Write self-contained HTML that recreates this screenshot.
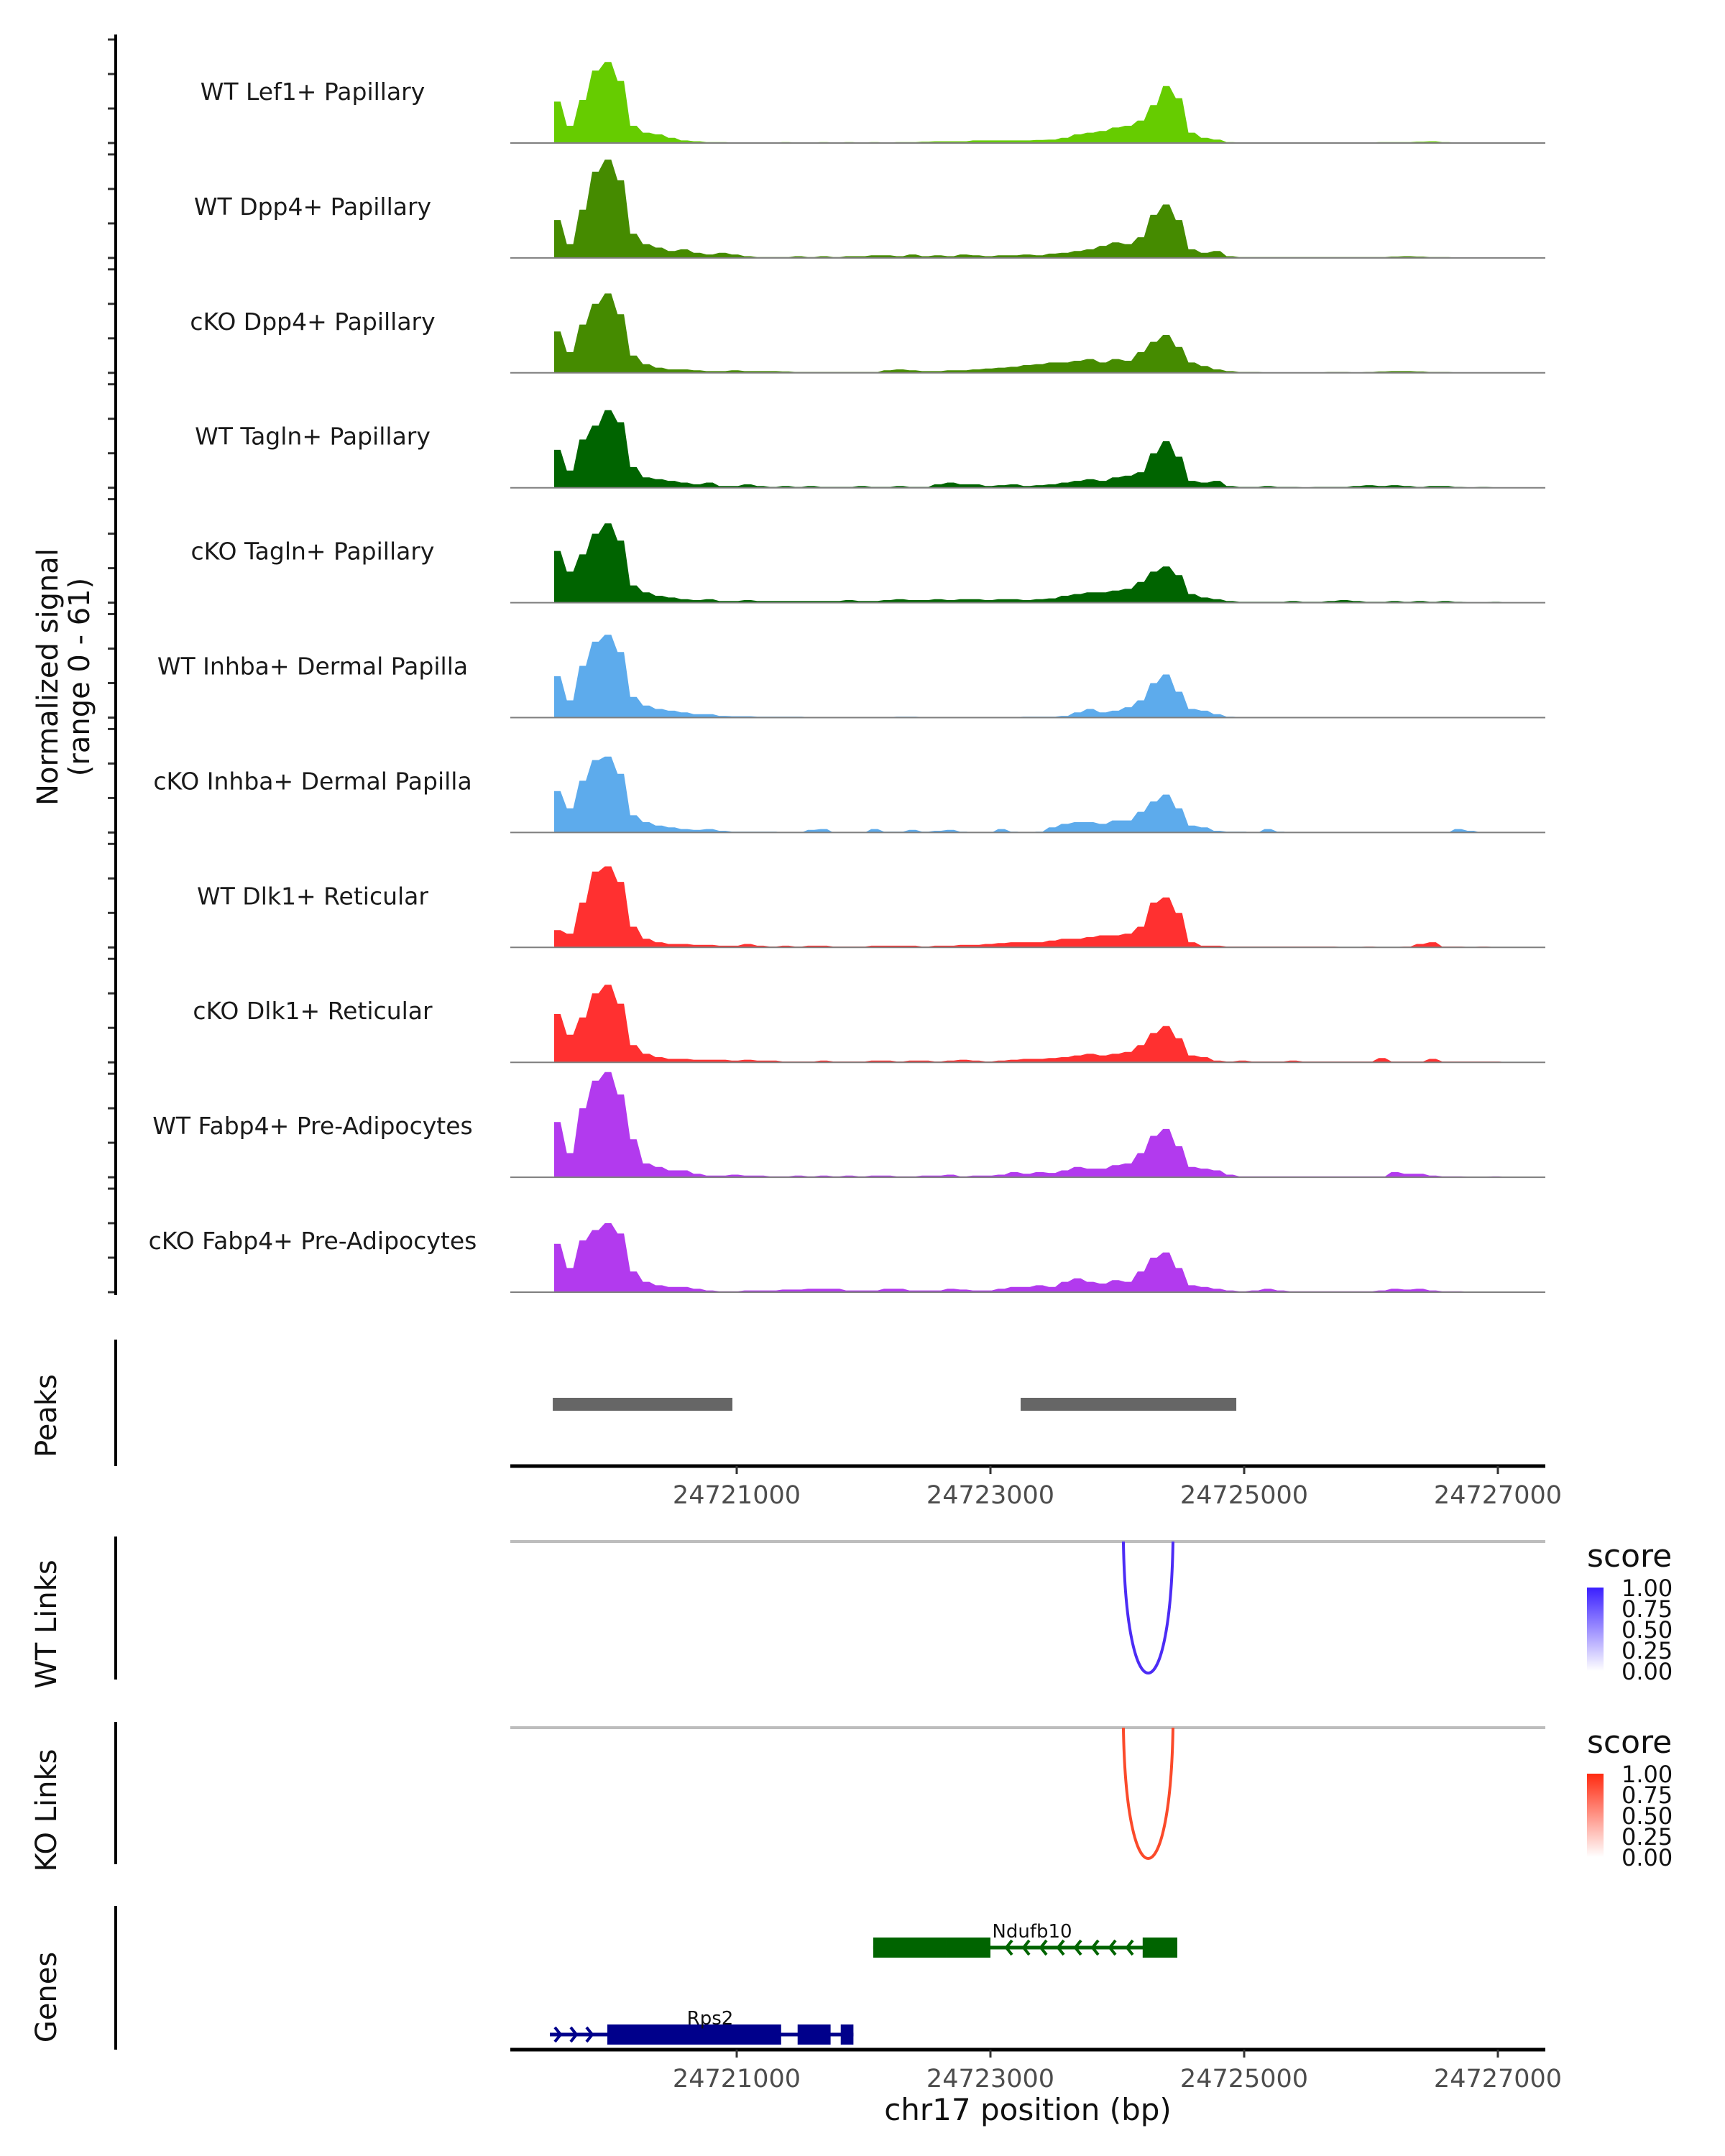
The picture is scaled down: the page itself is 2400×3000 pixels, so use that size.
<!DOCTYPE html>
<html><head><meta charset="utf-8">
<style>
html,body{margin:0;padding:0;background:#fff;}
svg{display:block;font-family:"DejaVu Sans","Liberation Sans",sans-serif;}
</style></head>
<body>
<svg id="chart" width="2400" height="3000" viewBox="0 0 2400 3000" xmlns="http://www.w3.org/2000/svg">
  <rect width="2400" height="3000" fill="#fff"/>
  <g id="tracks"></g>
  <line x1="161" y1="48" x2="161" y2="1802" stroke="#000" stroke-width="4"/>
  <text transform="translate(80,942) rotate(-90)" text-anchor="middle" font-size="40" fill="#111">Normalized signal</text>
  <text transform="translate(124,942) rotate(-90)" text-anchor="middle" font-size="40" fill="#111">(range 0 - 61)</text>

  <line x1="161" y1="1864" x2="161" y2="2040" stroke="#000" stroke-width="4"/>
  <text transform="translate(78,1970) rotate(-90)" text-anchor="middle" font-size="40" fill="#111">Peaks</text>
  <g id="peaks"></g>
  <g id="axis1"></g>

  <line x1="161" y1="2138" x2="161" y2="2337" stroke="#000" stroke-width="4"/>
  <text transform="translate(78,2260) rotate(-90)" text-anchor="middle" font-size="40" fill="#111">WT Links</text>
  <line x1="710" y1="2145" x2="2150" y2="2145" stroke="#bdbdbd" stroke-width="4"/>
  <g id="wtlinks"></g>

  <line x1="161" y1="2396" x2="161" y2="2594" stroke="#000" stroke-width="4"/>
  <text transform="translate(78,2519) rotate(-90)" text-anchor="middle" font-size="40" fill="#111">KO Links</text>
  <line x1="710" y1="2404" x2="2150" y2="2404" stroke="#bdbdbd" stroke-width="4"/>
  <g id="kolinks"></g>

  <defs>
    <linearGradient id="gblue" x1="0" y1="1" x2="0" y2="0"><stop offset="0" stop-color="#ffffff"/><stop offset="1" stop-color="#3a1fff"/></linearGradient>
    <linearGradient id="gred" x1="0" y1="1" x2="0" y2="0"><stop offset="0" stop-color="#ffffff"/><stop offset="1" stop-color="#ff2a10"/></linearGradient>
  </defs>
  <g>
    <text x="2208" y="2180" font-size="44" fill="#111">score</text>
    <rect x="2208" y="2209" width="23" height="116" fill="url(#gblue)"/>
    <g font-size="32" fill="#111">
      <text x="2256" y="2221">1.00</text><text x="2256" y="2250">0.75</text><text x="2256" y="2279">0.50</text><text x="2256" y="2308">0.25</text><text x="2256" y="2337">0.00</text>
    </g>
  </g>
  <g>
    <text x="2208" y="2439" font-size="44" fill="#111">score</text>
    <rect x="2208" y="2468" width="23" height="116" fill="url(#gred)"/>
    <g font-size="32" fill="#111">
      <text x="2256" y="2480">1.00</text><text x="2256" y="2509">0.75</text><text x="2256" y="2538">0.50</text><text x="2256" y="2567">0.25</text><text x="2256" y="2596">0.00</text>
    </g>
  </g>

  <line x1="161" y1="2652" x2="161" y2="2852" stroke="#000" stroke-width="4"/>
  <text transform="translate(78,2779) rotate(-90)" text-anchor="middle" font-size="40" fill="#111">Genes</text>
  <g id="genes"></g>
  <g id="axis2"></g>
  <text x="1430" y="2950" text-anchor="middle" font-size="42" fill="#111">chr17 position (bp)</text>
</svg>
<script>
// ---- data ----
const trackLabels = ["WT Lef1+ Papillary","WT Dpp4+ Papillary","cKO Dpp4+ Papillary","WT Tagln+ Papillary","cKO Tagln+ Papillary","WT Inhba+ Dermal Papilla","cKO Inhba+ Dermal Papilla","WT Dlk1+ Reticular","cKO Dlk1+ Reticular","WT Fabp4+ Pre-Adipocytes","cKO Fabp4+ Pre-Adipocytes"];
const trackColors = ["#66cc00","#458b00","#458b00","#006400","#006400","#5dabec","#5dabec","#ff3030","#ff3030","#b23aee","#b23aee"];
const binStart = 24719561;
const binSize = 100;
const sigWTLef1 = [24,10,25,42,47,36,10,6,5,3, 1.5,1,0.5,0.5,0.3,0.3,0.3,0.3,0.5,0.3, 0.3,0.5,0.3,0.5,0.3,0.5,0.3,0.5,0.5,0.8, 1,1,1,1.5,1.5,1.5,1.5,1.5,1.8,2, 3,5,6,7,9,10,13,22,33,26, 6,3,2,0.5,0.3,0.3,0.3,0.3,0.3,0.3, 0.3,0.3,0.3,0.3,0.3,0.5,0.5,0.5,0.8,1, 0.5,0.3,0.3,0.3,0.3];
const sigWTDpp4 = [22,8,28,50,57,45,14,8,6,4, 5,3,2,3,2,1,0.5,0.5,0.5,1, 0.5,1,0.5,1,1,1.5,1.5,1,2,1, 1.5,1,2,1.5,1,1.5,1.5,2,1.5,2.5, 3,4,5,7,9,8,12,25,31,22, 5,3,4,1,0.5,0.5,0.5,0.5,0.5,0.5, 0.5,0.5,0.5,0.5,0.5,0.5,0.8,1,0.8,0.5, 0.5,0.3,0.3,0.3,0.3];
const sigKODpp4 = [24,12,28,40,46,34,10,5,3,2, 2,1.5,1,1,1.5,1,1,1,0.8,0.5, 0.5,0.5,0.5,0.5,0.5,0.5,1.5,2,1.5,1, 1,1.5,1.5,2,2.5,3,3.5,4.5,5,6, 6,7,8,6,8,7,12,18,22,15, 6,4,2,1,0.5,0.5,0.3,0.3,0.3,0.3, 0.3,0.5,0.5,0.3,0.5,0.8,1,1,0.8,0.5, 0.5,0.3,0.3,0.3,0.3];
const sigWTTagln = [22,10,28,36,45,38,12,6,5,4, 3,2,3,1,1,2,1,0.5,1,0.5, 1,0.5,0.5,0.5,1,0.5,0.5,1,0.5,0.5, 2,3,2,2,1,1.5,2,1,1.5,2, 3,4,5,4,6,7,9,20,27,18, 4,3,4,1,0.5,0.5,1,0.5,0.5,0.3, 0.5,0.5,0.5,1,1.5,1,1.5,1,0.5,1, 1,0.5,0.3,0.5,0.3];
const sigKOTagln = [30,18,28,40,46,36,10,6,4,3, 2,1.5,2,1,1,1.5,1,1,1,1, 1,1,1,1.5,1,1,1.5,2,1.5,1.5, 2,1.5,2,2,1.5,2,2,1.5,2,2.5, 4,5,6,6,7,8,12,18,21,16, 5,3,2,1,0.5,0.5,0.5,0.5,1,0.5, 0.5,1,1.5,1,0.5,0.5,1,0.5,1,0.5, 1,0.5,0.3,0.3,0.5];
const sigWTInhba = [24,10,30,44,48,38,12,7,5,4, 3,2,2,1,0.8,0.8,0.5,0.5,0.5,0.5, 0.3,0.3,0.3,0.3,0.3,0.3,0.3,0.5,0.5,0.3, 0.3,0.3,0.3,0.3,0.3,0.3,0.3,0.5,0.5,0.5, 1,3,5,3,4,6,10,20,25,15, 5,4,2,0.5,0.3,0.3,0.3,0.3,0.3,0.3, 0.3,0.3,0.3,0.3,0.3,0.3,0.3,0.3,0.3,0.3, 0.3,0.3,0.3,0.3,0.3];
const sigKOInhba = [24,14,30,42,44,34,10,6,4,3, 2,1.5,2,1,0.5,0.5,0.5,0.5,0,0, 1.5,2,0,0,0,2,0.5,0.5,1.5,0.5, 1,1.5,0.5,0,0,2,0.5,0,0.5,3, 5,6,6,5,7,7,12,18,22,14, 4,3,1,0.5,0.5,0,2,0.5,0,0, 0,0,0,0,0,0,0,0,0,0, 0,2,1,0,0];
const sigWTDlk1 = [10,8,26,44,47,38,12,5,3,2, 2,1.5,1.5,1,1,2,1,0.5,1,0.5, 1,1,0.5,0.5,0.5,1,1,1,1,0.5, 1,1,1.5,1.5,2,2.5,3,3,3,4, 5,5,6,7,7,8,12,26,29,20, 3,1,1,0.5,0.5,0.5,0.5,0.5,0.5,0.5, 0.5,0.5,0.3,0.3,0.5,0.3,0.3,0.5,2,3, 0.5,0.5,0.3,0.5,0.3];
const sigKODlk1 = [28,16,26,40,45,34,10,5,3,2, 2,1.5,1.5,1.5,1,1.5,1,1,0.5,0.5, 0.5,1,0.5,0.5,0.5,1,1,0.5,1,1, 0.5,1,1.5,1,0.5,1,1.5,2,2,2.5, 3,4,5,4,5,6,10,17,21,14, 4,3,1,0.5,1,0.5,0.5,0.5,1,0.5, 0.5,0.5,0.5,0.5,0.5,2.5,0.5,0.5,0.5,2, 0.5,0.5,0.5,0.5,0.5];
const sigWTFabp4 = [32,14,40,56,61,48,22,8,6,4, 4,2,1,1,1.5,1,1,0.5,0.5,1, 0.5,1,0.5,1,0.5,1,1,0.5,0.5,1, 1,1.5,0.5,1,1,1.5,3,2,3,2.5, 4,6,5,5,7,8,14,24,28,18, 6,5,4,1.5,0.5,0.5,0.5,0.5,0.5,0.5, 0.5,0.5,0.5,0.5,0.5,0.5,3,2,2,1, 0.5,0.5,0.3,0.3,0.5];
const sigKOFabp4 = [28,14,30,36,40,34,12,6,4,3, 3,2,1,0.5,0.5,1,1,1,1.5,1.5, 2,2,2,1,1,1,2,2,1,1, 1,2,1.5,1,1,2,3,3,4,3, 6,8,6,5,7,6,12,20,23,14, 4,3,2,1,0.5,1,2,1,0.5,0.5, 0.5,0.5,0.5,0.5,0.5,1,2,1.5,2,1, 0.5,0.5,0.3,0.3,0.3];
const signals = [sigWTLef1,sigWTDpp4,sigKODpp4,sigWTTagln,sigKOTagln,sigWTInhba,sigKOInhba,sigWTDlk1,sigKODlk1,sigWTFabp4,sigKOFabp4];
const yTicks = [0,20,40,60];
const peakStarts = [24719550, 24723238];
const peakEnds = [24720966, 24724938];
const wtLinkStart = [24724048];
const wtLinkEnd = [24724439];
const wtLinkScore = [0.85];
const koLinkStart = [24724048];
const koLinkEnd = [24724439];
const koLinkScore = [0.85];
const xTicks = [24721000, 24723000, 24725000, 24727000];
const xTickLabels = ["24721000","24723000","24725000","24727000"];

// ---- scales ----
const NS = "http://www.w3.org/2000/svg";
const xScale = bp => 1025 + (bp - 24721000) * 0.1765;
const trackBase = i => 199 + i * 159.9;
const yScale = (i, v) => trackBase(i) - v * 2.4;
function mk(tag, attrs, parent){const e=document.createElementNS(NS,tag);for(const k in attrs)e.setAttribute(k,attrs[k]);parent.appendChild(e);return e;}

// ---- coverage tracks ----
const tracksG = document.getElementById('tracks');
signals.forEach((arr, i) => {
  const g = mk('g', {}, tracksG);
  
  
  yTicks.forEach(t => {
    const tk = mk('line', {x1:150, x2:161, y1:yScale(i,t), y2:yScale(i,t), stroke:'#333', 'stroke-width':3}, g);
    
    
  });
  const base = trackBase(i);
  let d = 'M' + xScale(binStart).toFixed(1) + ',' + base;
  arr.forEach((v, k) => {
    const x0 = xScale(binStart + k * binSize), x1 = xScale(binStart + (k + 1) * binSize);
    d += ' L' + x0.toFixed(1) + ',' + yScale(i, v).toFixed(1) + ' L' + ((x0+x1)/2).toFixed(1) + ',' + yScale(i, v).toFixed(1);
  });
  d += ' L' + xScale(binStart + arr.length * binSize).toFixed(1) + ',' + base + ' Z';
  const area = mk('path', {d:d, fill:trackColors[i], stroke:'none'}, g);
  
  
  const bl = mk('line', {x1:710, x2:2150, y1:base, y2:base, stroke:'#7f7f7f', 'stroke-width':2}, g);
  
  
  const lb = mk('text', {x:435, y:base - 60, 'text-anchor':'middle', 'font-size':33, fill:'#1a1a1a'}, g);
  lb.textContent = trackLabels[i];
  
  
});

// ---- peaks ----
const peaksG = document.getElementById('peaks');
peakStarts.forEach((s, k) => {
  const r = mk('rect', {x:xScale(s), y:1945, width:xScale(peakEnds[k]) - xScale(s), height:18, fill:'#666'}, peaksG);
  
  
});

// ---- axes ----
function drawAxis(id, y){
  const g = document.getElementById(id);
  const ln = mk('line', {x1:710, x2:2150, y1:y, y2:y, stroke:'#000', 'stroke-width':5}, g);
  
  
  xTicks.forEach((t, k) => {
    const tk = mk('line', {x1:xScale(t), x2:xScale(t), y1:y, y2:y + 11, stroke:'#333', 'stroke-width':3}, g);
    
    
    const tx = mk('text', {x:xScale(t), y:y + 52, 'text-anchor':'middle', 'font-size':35, fill:'#4d4d4d'}, g);
    tx.textContent = xTickLabels[k];
    
    
  });
}
drawAxis('axis1', 2040);
drawAxis('axis2', 2852);

// ---- links ----
function drawLinks(id, starts, ends, scores, top, depth, color){
  const g = document.getElementById(id);
  starts.forEach((s, k) => {
    const x1 = xScale(s), x2 = xScale(ends[k]);
    const c = top + depth * scores[k] / 0.85 * 4 / 3;
    const p = mk('path', {d:`M${x1},${top} C${x1+4},${c} ${x2-4},${c} ${x2},${top}`, fill:'none', stroke:color, 'stroke-width':4}, g);
    
    
  });
}
drawLinks('wtlinks', wtLinkStart, wtLinkEnd, wtLinkScore, 2145, 183, '#4c2cf5');
drawLinks('kolinks', koLinkStart, koLinkEnd, koLinkScore, 2404, 182, '#fb4a2a');

// ---- genes ----
const genesG = document.getElementById('genes');
function drawGene(name, y, start, end, exons, color, labelX){
  const g = mk('g', {}, genesG);
  
  
  const ln = mk('line', {x1:xScale(start), x2:xScale(end), y1:y, y2:y, stroke:color, 'stroke-width':5}, g);
  
  
  exons.forEach(e => {
    const r = mk('rect', {x:xScale(e[0]), y:y - 14, width:xScale(e[1]) - xScale(e[0]), height:28, fill:color}, g);
    
    
  });
  const lt = mk('text', {x:labelX, y:y - 14, 'text-anchor':'middle', 'font-size':26, fill:'#111'}, g);
  lt.textContent = name;
  
  
  return g;
}
const gN = drawGene('Ndufb10', 2710, 24722076, 24724473, [[24722076,24722660],[24722660,24723000],[24724200,24724473]], '#006400', 1436);
for (let k = 0; k < 8; k++) {
  const x = 1400 + k * 24;
  const a = mk('path', {d:`M${x+8},${2700} L${x},${2710} L${x+8},${2720}`, fill:'none', stroke:'#006400', 'stroke-width':4}, gN);
  
  
}
const gR = drawGene('Rps2', 2831, 24719527, 24721920, [[24719980,24721350],[24721480,24721740],[24721820,24721920]], '#00008b', 988);
[772, 794, 816].forEach(x => {
  const a = mk('path', {d:`M${x},${2821} L${x+8},${2831} L${x},${2841}`, fill:'none', stroke:'#00008b', 'stroke-width':4}, gR);
  
  
});
</script>
</body></html>
